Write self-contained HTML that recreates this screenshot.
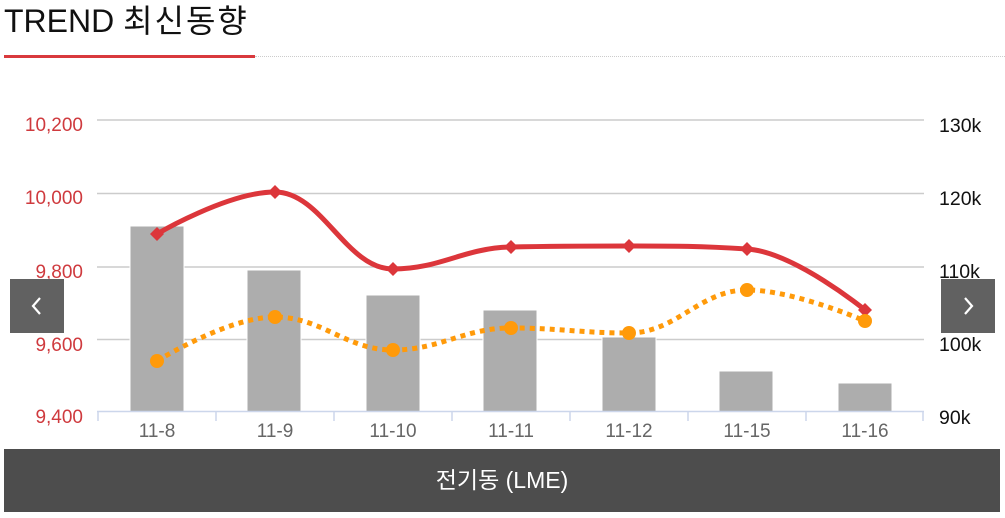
<!DOCTYPE html>
<html><head><meta charset="utf-8"><style>
html,body{margin:0;padding:0;background:#fff;}
body{width:1005px;height:518px;position:relative;overflow:hidden;font-family:"Liberation Sans","Noto Sans CJK KR",sans-serif;}
.title{position:absolute;left:4px;top:1px;font-size:32px;color:#111;line-height:40px;white-space:nowrap;}
.title span{letter-spacing:2px;}
.redline{position:absolute;left:4px;top:55px;width:251px;height:3px;background:#d9393d;}
.dotline{position:absolute;left:255px;top:56px;width:750px;height:0;border-top:1px dotted #ccc;}
.nav{position:absolute;top:279px;width:54px;height:54px;background:#616161;}
.bottom{position:absolute;left:4px;top:449px;width:996px;height:63px;background:#4d4d4d;color:#fff;font-size:23px;text-align:center;line-height:63px;}
</style></head><body>
<div class="title">TREND <span>최신동향</span></div>
<div class="redline"></div>
<div class="dotline"></div>
<svg width="1005" height="518" style="position:absolute;left:0;top:0" xmlns="http://www.w3.org/2000/svg">
<g stroke="#cccccc" stroke-width="1.5">
<line x1="97" y1="120" x2="924" y2="120"/>
<line x1="97" y1="193.5" x2="924" y2="193.5"/>
<line x1="97" y1="267" x2="924" y2="267"/>
<line x1="97" y1="339.5" x2="924" y2="339.5"/>
</g>
<g fill="#adadad" stroke="#fff" stroke-width="1">
<rect x="130" y="226" width="54" height="186"/>
<rect x="247" y="270" width="54" height="142"/>
<rect x="366" y="295" width="54" height="117"/>
<rect x="483" y="310" width="54" height="102"/>
<rect x="602" y="337" width="54" height="75"/>
<rect x="719" y="371" width="54" height="41"/>
<rect x="838" y="383" width="54" height="29"/>
</g>
<g stroke="#ccd6eb" stroke-width="1.5">
<line x1="97" y1="411.5" x2="924" y2="411.5"/>
<line x1="98" y1="411" x2="98" y2="421"/>
<line x1="216" y1="411" x2="216" y2="421"/>
<line x1="334" y1="411" x2="334" y2="421"/>
<line x1="452" y1="411" x2="452" y2="421"/>
<line x1="570" y1="411" x2="570" y2="421"/>
<line x1="688" y1="411" x2="688" y2="421"/>
<line x1="806" y1="411" x2="806" y2="421"/>
<line x1="923" y1="411" x2="923" y2="421"/>
</g>
<path d="M157 234 C157 234 227.8 192 275 192 C322.2 192 345.8 269 393 269 C440.2 269 463.8 248 511 247 C558.2 246 581.8 246 629 246 C676.2 246 699.8 246 747 249 C794.2 252 865 310 865 310" fill="none" stroke="#dc363b" stroke-width="5"/>
<g fill="#dc363b">
<path d="M157 227 L164 234 L157 241 L150 234Z"/>
<path d="M275 185 L282 192 L275 199 L268 192Z"/>
<path d="M393 262 L400 269 L393 276 L386 269Z"/>
<path d="M511 240 L518 247 L511 254 L504 247Z"/>
<path d="M629 239 L636 246 L629 253 L622 246Z"/>
<path d="M747 242 L754 249 L747 256 L740 249Z"/>
<path d="M865 303 L872 310 L865 317 L858 310Z"/>
</g>
<path d="M157 361 C157 361 227.8 317 275 317 C322.2 317 345.8 350 393 350 C440.2 350 463.8 328 511 328 C558.2 328 581.8 333 629 333 C676.2 333 699.8 290 747 290 C794.2 290 865 321 865 321" fill="none" stroke="#ff9a0a" stroke-width="5" stroke-dasharray="5,5"/>
<g fill="#ff9a0a">
<circle cx="157" cy="361" r="7"/>
<circle cx="275" cy="317" r="7"/>
<circle cx="393" cy="350" r="7"/>
<circle cx="511" cy="328" r="7"/>
<circle cx="629" cy="333" r="7"/>
<circle cx="747" cy="290" r="7"/>
<circle cx="865" cy="321" r="7"/>
</g>
<g font-family="Liberation Sans, sans-serif" font-size="19" fill="#cf3a3e" text-anchor="end">
<text x="83" y="131">10,200</text>
<text x="83" y="204">10,000</text>
<text x="83" y="278">9,800</text>
<text x="83" y="351">9,600</text>
<text x="83" y="423">9,400</text>
</g>
<g font-family="Liberation Sans, sans-serif" font-size="19.5" fill="#111" text-anchor="start">
<text x="939" y="132">130k</text>
<text x="939" y="205">120k</text>
<text x="939" y="278">110k</text>
<text x="939" y="351">100k</text>
<text x="939" y="424">90k</text>
</g>
<g font-family="Liberation Sans, sans-serif" font-size="19" fill="#666" text-anchor="middle">
<text x="157" y="437">11-8</text>
<text x="275" y="437">11-9</text>
<text x="393" y="437">11-10</text>
<text x="511" y="437">11-11</text>
<text x="629" y="437">11-12</text>
<text x="747" y="437">11-15</text>
<text x="865" y="437">11-16</text>
</g>
</svg>
<div class="nav" style="left:10px;"><svg width="54" height="54"><path d="M30 19 L23 27 L30 35" fill="none" stroke="#fff" stroke-width="2.2"/></svg></div>
<div class="nav" style="left:941px;"><svg width="54" height="54"><path d="M24 19 L31 27 L24 35" fill="none" stroke="#fff" stroke-width="2.2"/></svg></div>
<div class="bottom">전기동 (LME)</div>
</body></html>
